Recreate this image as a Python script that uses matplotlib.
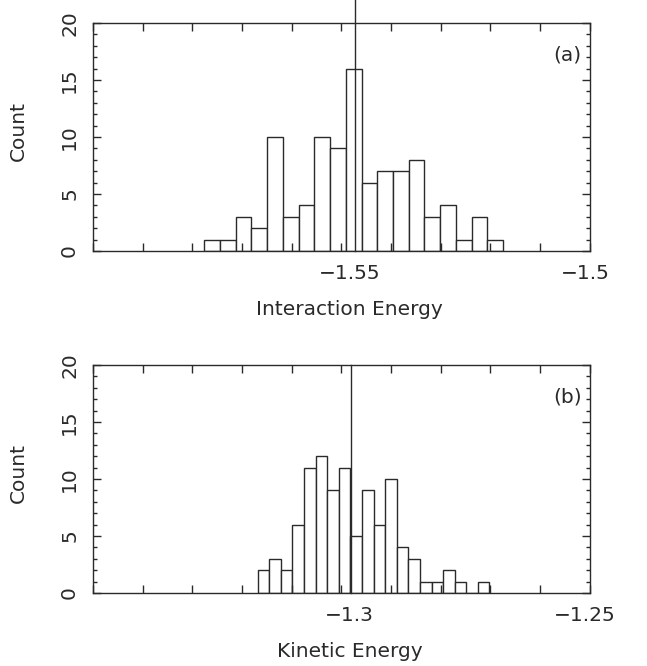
import numpy as np
import matplotlib.pyplot as plt
from matplotlib.ticker import MultipleLocator

# interaction energy histogram (a)
counts_a = [1, 1, 3, 2, 10, 3, 4, 10, 9, 16, 6, 7, 7, 8, 3, 4, 1, 3, 1]
bin_lo_a = -1.5776
bin_w_a = 0.003165
mean_a = -1.54725
xlim_a = (-1.6, -1.5)
xlabels_a = {-1.55: "\u22121.55", -1.5: "\u22121.5"}

# kinetic energy histogram (b)
counts_b = [2, 3, 2, 6, 11, 12, 9, 11, 5, 9, 6, 10, 4, 3, 1, 1, 2, 1, 0, 1]
bin_lo_b = -1.31685
bin_w_b = 0.002332
mean_b = -1.29805
xlim_b = (-1.35, -1.25)
xlabels_b = {-1.3: "\u22121.3", -1.25: "\u22121.25"}

plt.rcParams['font.family'] = 'DejaVu Sans'
fig = plt.figure(figsize=(6.47, 6.66), dpi=100)
ax_a = fig.add_axes([0.1437, 0.6231, 0.768, 0.3423])
ax_b = fig.add_axes([0.1437, 0.1096, 0.768, 0.3423])

ink = '#2a2a2a'
fs = 14.5


def draw(ax, counts, lo, w, mean, xlim, xlabels, xlabel, tag, line_top):
    edges = lo + w * np.arange(len(counts))
    ax.bar(edges, counts, width=w, align='edge', color='white',
           edgecolor=ink, linewidth=1.0)
    ax.plot([mean, mean], [0, line_top], color=ink, lw=1.0, clip_on=False,
            zorder=5)
    ax.set_xlim(*xlim)
    ax.set_ylim(0, 20)
    ax.xaxis.set_major_locator(MultipleLocator(0.01))
    ax.xaxis.set_major_formatter(plt.NullFormatter())
    ax.yaxis.set_major_locator(MultipleLocator(5))
    ax.yaxis.set_minor_locator(MultipleLocator(1))
    ax.tick_params(which='both', direction='in', top=True, right=True,
                   colors=ink, labelsize=fs)
    ax.tick_params(which='major', length=6, width=1)
    ax.tick_params(which='minor', length=3, width=1)
    ax.tick_params(axis='y', pad=10)
    for lbl in ax.get_yticklabels():
        lbl.set_rotation(90)
        lbl.set_va('center')
    # tick values under the axis; the one at the right edge sits a bit inward
    for x, s in xlabels.items():
        dx = -5 if x == xlim[1] else 8
        ax.annotate(s, xy=(x, 0), xycoords=('data', 'axes fraction'),
                    xytext=(dx, -28), textcoords='offset pixels',
                    ha='center', va='baseline', fontsize=fs, color=ink)
    ax.annotate(xlabel, xy=(0.5, 0), xycoords='axes fraction',
                xytext=(8, -64), textcoords='offset pixels',
                ha='center', va='baseline', fontsize=fs, color=ink)
    ax.annotate('Count', xy=(0, 0.5), xycoords='axes fraction',
                xytext=(-75, 6), textcoords='offset pixels', rotation=90,
                ha='center', va='center', fontsize=fs, color=ink)
    ax.text(0.955, 0.86, tag, transform=ax.transAxes, ha='center',
            va='center', fontsize=fs, color=ink)
    for sp in ax.spines.values():
        sp.set_color(ink)
        sp.set_linewidth(1.0)


draw(ax_a, counts_a, bin_lo_a, bin_w_a, mean_a, xlim_a, xlabels_a,
     'Interaction Energy', '(a)', 22.0)
draw(ax_b, counts_b, bin_lo_b, bin_w_b, mean_b, xlim_b, xlabels_b,
     'Kinetic Energy', '(b)', 20.0)

fig.savefig('out.png', dpi=100)
